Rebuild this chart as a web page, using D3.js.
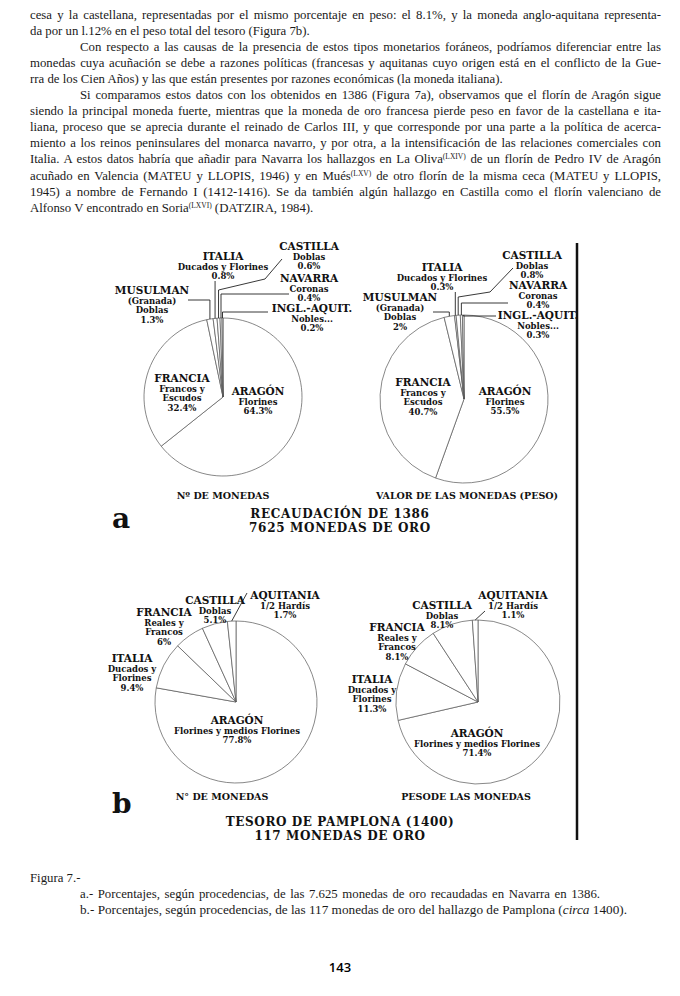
<!DOCTYPE html>
<html>
  <head>
    <meta charset="utf-8" />
    <title>Figura 7 - Monedas de oro</title>
    <script src="https://d3js.org/d3.v7.min.js"></script>
    <style>
      body { margin: 0; background: #fff; }
      .body-text { font-family: "Liberation Serif", "Times New Roman", serif; font-size: 12.8px; fill: #1a1a1a; }
      .lbl { font-family: "DejaVu Serif", serif; font-weight: bold; fill: #111; }
      .slice { fill: #fff; stroke: #555; stroke-width: 0.7; }
      .leader { fill: none; stroke: #222; stroke-width: 0.9; }
    </style>
  </head>
  <body>
    <svg width="680" height="996"></svg>
    <script>
      // ---- data ----
      var categoriesA = ["ARAGÓN", "FRANCIA", "MUSULMAN", "ITALIA", "CASTILLA", "NAVARRA", "INGL.-AQUIT."];
      var subLabelsA = [["Florines"], ["Francos y", "Escudos"], ["(Granada)", "Doblas"], ["Ducados y Florines"], ["Doblas"], ["Coronas"], ["Nobles..."]];
      var countA = [64.3, 32.4, 1.3, 0.8, 0.6, 0.4, 0.2];   // Nº de monedas, 1386
      var weightA = [55.5, 40.7, 2, 0.3, 0.8, 0.4, 0.3];    // valor (peso), 1386

      var categoriesB = ["ARAGÓN", "ITALIA", "FRANCIA", "CASTILLA", "AQUITANIA"];
      var subLabelsB = [["Florines y medios Florines"], ["Ducados y", "Florines"], ["Reales y", "Francos"], ["Doblas"], ["1/2 Hardís"]];
      var countB = [77.8, 9.4, 6, 5.1, 1.7];    // Nº de monedas, Pamplona
      var weightB = [71.4, 11.3, 8.1, 8.1, 1.1]; // peso, Pamplona

      var bodyLines = [
        "cesa y la castellana, representadas por el mismo porcentaje en peso: el 8.1%, y la moneda anglo-aquitana representa-",
        "da por un l.12% en el peso total del tesoro (Figura 7b).",
        "Con respecto a las causas de la presencia de estos tipos monetarios foráneos, podríamos diferenciar entre las",
        "monedas cuya acuñación se debe a razones políticas (francesas y aquitanas cuyo origen está en el conflicto de la Gue-",
        "rra de los Cien Años) y las que están presentes por razones económicas (la moneda italiana).",
        "Si comparamos estos datos con los obtenidos en 1386 (Figura 7a), observamos que el florín de Aragón sigue",
        "siendo la principal moneda fuerte, mientras que la moneda de oro francesa pierde peso en favor de la castellana e ita-",
        "liana, proceso que se aprecia durante el reinado de Carlos III, y que corresponde por una parte a la política de acerca-",
        "miento a los reinos peninsulares del monarca navarro, y por otra, a la intensificación de las relaciones comerciales con",
        "Italia. A estos datos habría que añadir para Navarra los hallazgos en La Oliva^(LXIV)^ de un florín de Pedro IV de Aragón",
        "acuñado en Valencia (MATEU y LLOPIS, 1946) y en Mués^(LXV)^ de otro florín de la misma ceca (MATEU y LLOPIS,",
        "1945) a nombre de Fernando I (1412-1416). Se da también algún hallazgo en Castilla como el florín valenciano de",
        "Alfonso V encontrado en Soria^(LXVI)^ (DATZIRA, 1984)."
      ];
      var lineIndent = [false, false, true, false, false, true, false, false, false, false, false, false, false];
      var lastOfParagraph = [false, true, false, false, true, false, false, false, false, false, false, false, true];

      var svg = d3.select("svg");
      var left = 30, right = 661, indent = 50;

      // ---- body text ----
      function addLine(str, x0, y, justifyTo) {
        var t = svg.append("text").attr("class", "body-text").attr("x", x0).attr("y", y);
        str.split("^").forEach(function (part, i) {
          if (!part) return;
          var sp = t.append("tspan").text(part);
          if (i % 2 === 1) sp.attr("font-size", "7.5px").attr("dy", -4);
          else if (i > 0) sp.attr("dy", 4);
        });
        if (justifyTo != null) {
          var target = justifyTo - x0;
          var natural = t.node().getComputedTextLength();
          var spaces = (str.match(/ /g) || []).length;
          if (natural < target && spaces > 0) {
            t.style("word-spacing", ((target - natural) / spaces) + "px");
          } else if (natural > target) {
            t.attr("textLength", target).attr("lengthAdjust", "spacingAndGlyphs");
          }
        }
        return t;
      }
      bodyLines.forEach(function (s, i) {
        var x0 = left + (lineIndent[i] ? indent : 0);
        addLine(s, x0, 19 + i * 16.05, lastOfParagraph[i] ? null : right);
      });

      // ---- pies ----
      var pie = d3.pie().sort(null).value(function (d) { return d; });

      function fmt(v) { return v + "%"; }

      function drawPie(opt) {
        var g = svg.append("g").attr("transform", "translate(" + opt.cx + "," + opt.cy + ")");
        var arc = d3.arc().innerRadius(0).outerRadius(opt.r);
        var arcs = pie(opt.values);
        g.selectAll("path.slice").data(arcs).enter().append("path")
          .attr("class", "slice").attr("d", arc);

        // leader lines: from slice edge, up to a level, then through extra points
        arcs.forEach(function (a, i) {
          var L = opt.leaders[i];
          if (!L) return;
          var m = (a.startAngle + a.endAngle) / 2;
          var ex = opt.cx + Math.sin(m) * opt.r, ey = opt.cy - Math.cos(m) * opt.r;
          var pts = [[ex, ey]];
          if (L.level != null) pts.push([ex, L.level]);
          (L.pts || []).forEach(function (p) { pts.push(p); });
          svg.append("path").attr("class", "leader").attr("d", d3.line()(pts));
        });

        // labels
        opt.cats.forEach(function (c, i) {
          var p = opt.labels[i];
          var lines = [{ t: c, s: 10.5 }]
            .concat(opt.subs[i].map(function (s) { return { t: s, s: 8.5 }; }))
            .concat([{ t: fmt(opt.values[i]), s: 8.5 }]);
          var y = p[1];
          lines.forEach(function (ln, k) {
            if (k > 0) y += (k === 1 ? 10 : 9.3);
            svg.append("text").attr("class", "lbl")
              .attr("x", p[0]).attr("y", y)
              .attr("text-anchor", p[2] || "middle")
              .style("font-size", ln.s + "px")
              .text(ln.t);
          });
        });
      }

      drawPie({
        cx: 223, cy: 397, r: 79, values: countA, cats: categoriesA, subs: subLabelsA,
        labels: [[258, 395], [182, 382], [152, 294], [223, 260], [309, 250], [309, 282], [312, 312]],
        leaders: [null, null,
          { level: 300, pts: [[188, 300]] },
          { level: 281 },
          { level: 290, pts: [[265, 279], [282, 259]] },
          { level: 294, pts: [[289, 294]] },
          { level: 312, pts: [[268, 312]] }]
      });

      drawPie({
        cx: 464, cy: 399, r: 84, values: weightA, cats: categoriesA, subs: subLabelsA,
        labels: [[505, 395], [423, 386], [400, 301], [442, 271], [532, 259], [538, 289], [538, 319]],
        leaders: [null, null,
          { level: 312, pts: [[433, 312]] },
          { level: 292 },
          { level: 297, pts: [[490, 292], [513, 268]] },
          { level: 303, pts: [[508, 303]] },
          { level: 316, pts: [[496, 316]] }]
      });

      drawPie({
        cx: 236, cy: 702, r: 81, values: countB, cats: categoriesB, subs: subLabelsB,
        labels: [[237, 724], [132, 662], [164, 616], [215, 604], [285, 599]],
        leaders: [null, null, null, null, { pts: [[247, 593]] }]
      });

      drawPie({
        cx: 478, cy: 702, r: 82, values: weightB, cats: categoriesB, subs: subLabelsB,
        labels: [[477, 737], [372, 683], [397, 631], [442, 609], [513, 599]],
        leaders: [null, null, null, null, { pts: [[485, 611]] }]
      });

      // ---- chart titles ----
      function title(t, x, y, size, ls) {
        svg.append("text").attr("class", "lbl").attr("x", x).attr("y", y)
          .attr("text-anchor", "middle").style("font-size", size + "px")
          .style("letter-spacing", (ls || 0) + "px").text(t);
      }
      title("Nº DE MONEDAS", 223, 499, 9.5);
      title("VALOR DE LAS MONEDAS (PESO)", 467, 499, 9.5);
      title("RECAUDACIÓN DE 1386", 340, 518, 12, 0.7);
      title("7625 MONEDAS DE ORO", 340, 532, 12, 0.7);
      title("N° DE MONEDAS", 222, 800, 9.5);
      title("PESODE LAS MONEDAS", 466, 800, 9.5);
      title("TESORO DE PAMPLONA (1400)", 340, 826, 12, 0.6);
      title("117 MONEDAS DE ORO", 340, 840, 12, 0.6);
      svg.append("text").attr("class", "lbl").attr("x", 112).attr("y", 528)
        .style("font-size", "28px").style("font-weight", 900).text("a");
      svg.append("text").attr("class", "lbl").attr("x", 112).attr("y", 813)
        .style("font-size", "28px").style("font-weight", 900).text("b");

      // vertical rule at the right of the figure
      svg.append("line").attr("x1", 577).attr("x2", 577).attr("y1", 243).attr("y2", 840)
        .attr("stroke", "#111").attr("stroke-width", 2.5);

      // ---- caption ----
      svg.append("text").attr("class", "body-text").attr("x", 30).attr("y", 882).text("Figura 7.-");
      addLine("a.- Porcentajes, según procedencias, de las 7.625 monedas de oro recaudadas en Navarra en 1386.", 80, 898, 600);
      var cb = svg.append("text").attr("class", "body-text").attr("x", 80).attr("y", 914)
        .attr("textLength", 547).attr("lengthAdjust", "spacingAndGlyphs");
      cb.append("tspan").text("b.- Porcentajes, según procedencias, de las 117 monedas de oro del hallazgo de Pamplona (");
      cb.append("tspan").style("font-style", "italic").text("circa");
      cb.append("tspan").text(" 1400).");

      svg.append("text").attr("x", 340).attr("y", 972).attr("text-anchor", "middle")
        .style("font-family", "'Open Sans', sans-serif").style("font-size", "13px")
        .style("font-weight", 600).text("143");
    </script>
  </body>
</html>
